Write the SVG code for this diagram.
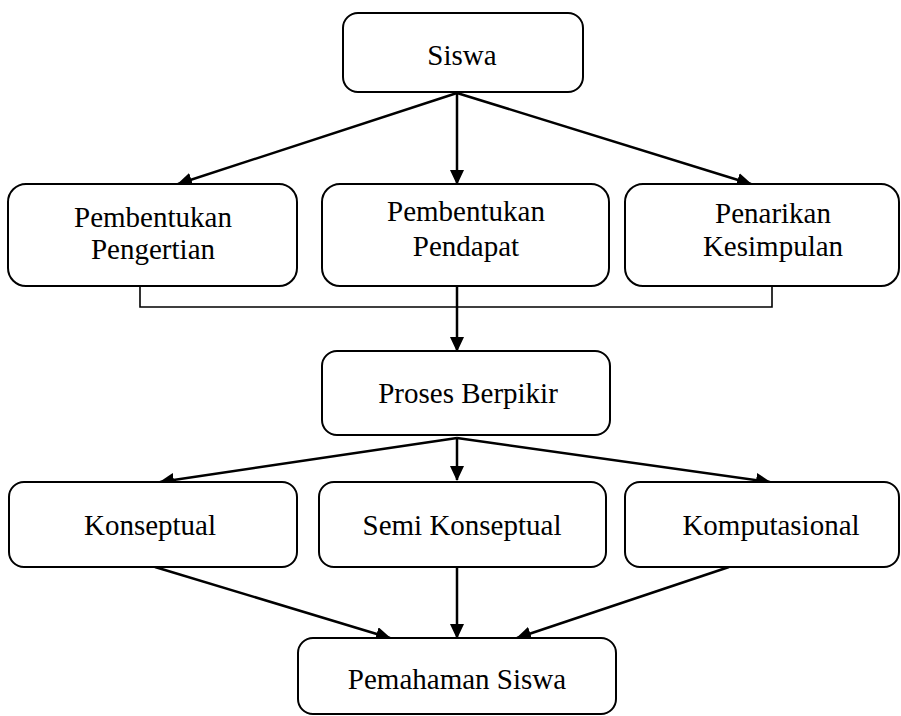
<svg xmlns="http://www.w3.org/2000/svg" width="901" height="716" viewBox="0 0 901 716">
<style>
.box{fill:#fff;stroke:#000;stroke-width:2}
.t{font-family:"Liberation Serif","Times New Roman",serif;font-size:29px;fill:#000;text-anchor:middle}
.c{fill:none;stroke:#000;stroke-width:2.5}
.b{fill:none;stroke:#000;stroke-width:1.6}
</style>
<defs>
<marker id="ah" markerUnits="userSpaceOnUse" markerWidth="16" markerHeight="14" refX="14" refY="7" orient="auto">
<path d="M0,0 L15,7 L0,14 Z" fill="#000"/>
</marker>
</defs>
<rect width="901" height="716" fill="#fff"/>
<g id="connectors">
<line class="c" x1="457" y1="93" x2="178" y2="184" marker-end="url(#ah)"/>
<line class="c" x1="457" y1="93" x2="457" y2="184" marker-end="url(#ah)"/>
<line class="c" x1="457" y1="93" x2="751" y2="184" marker-end="url(#ah)"/>
<polyline class="b" points="140,286 140,307 772,307 772,286"/>
<line class="c" x1="457" y1="285" x2="457" y2="351" marker-end="url(#ah)"/>
<line class="c" x1="457" y1="438" x2="160" y2="482" marker-end="url(#ah)"/>
<line class="c" x1="457" y1="438" x2="457" y2="480" marker-end="url(#ah)"/>
<line class="c" x1="457" y1="438" x2="770" y2="482" marker-end="url(#ah)"/>
<line class="c" x1="155" y1="567" x2="390" y2="638" marker-end="url(#ah)"/>
<line class="c" x1="457" y1="567" x2="457" y2="638" marker-end="url(#ah)"/>
<line class="c" x1="729" y1="567" x2="517" y2="638" marker-end="url(#ah)"/>
</g>
<g id="siswa">
<rect class="box" x="343" y="13" width="240" height="79" rx="15"/>
<text class="t" x="462" y="65">Siswa</text>
</g>
<g id="pembentukan-pengertian">
<rect class="box" x="8" y="184" width="289" height="102" rx="18"/>
<text class="t" x="153" y="227">Pembentukan</text>
<text class="t" x="153" y="259">Pengertian</text>
</g>
<g id="pembentukan-pendapat">
<rect class="box" x="322" y="184" width="287" height="102" rx="18"/>
<text class="t" x="466" y="221">Pembentukan</text>
<text class="t" x="466" y="256">Pendapat</text>
</g>
<g id="penarikan-kesimpulan">
<rect class="box" x="625" y="184" width="274" height="102" rx="18"/>
<text class="t" x="773" y="223">Penarikan</text>
<text class="t" x="773" y="256">Kesimpulan</text>
</g>
<g id="proses-berpikir">
<rect class="box" x="322" y="351" width="288" height="84" rx="15"/>
<text class="t" x="468" y="403">Proses Berpikir</text>
</g>
<g id="konseptual">
<rect class="box" x="9" y="482" width="288" height="85" rx="15"/>
<text class="t" x="150" y="535">Konseptual</text>
</g>
<g id="semi-konseptual">
<rect class="box" x="319" y="482" width="287" height="85" rx="15"/>
<text class="t" x="462" y="535">Semi Konseptual</text>
</g>
<g id="komputasional">
<rect class="box" x="625" y="482" width="274" height="85" rx="15"/>
<text class="t" x="771" y="535">Komputasional</text>
</g>
<g id="pemahaman-siswa">
<rect class="box" x="298" y="638" width="318" height="76" rx="15"/>
<text class="t" x="457" y="689">Pemahaman Siswa</text>
</g>
</svg>
